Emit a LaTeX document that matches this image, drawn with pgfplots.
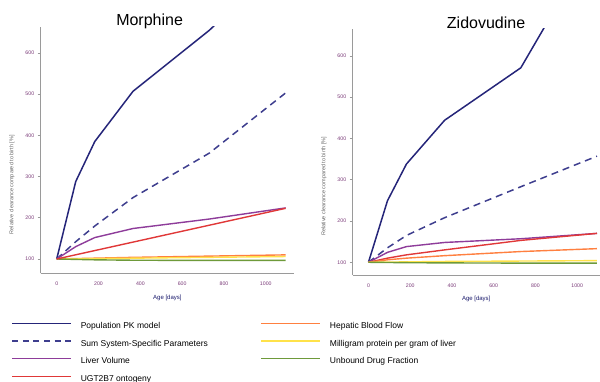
\documentclass[border=0pt]{standalone}
\usepackage{pgfplots}
\pgfplotsset{compat=1.18}
\usepackage{fontspec}
\setmainfont{Liberation Sans}
\definecolor{popc}{HTML}{252579}
\definecolor{sumc}{HTML}{3E3E8E}
\definecolor{livc}{HTML}{8E3C9A}
\definecolor{ugtc}{HTML}{E03838}
\definecolor{hepc}{HTML}{FF8040}
\definecolor{mgc}{HTML}{FFE24A}
\definecolor{unbc}{HTML}{6E9A3A}
\definecolor{tickc}{HTML}{7A3A78}
\definecolor{axc}{HTML}{9A9A9A}
\pgfplotsset{
  panel/.style={
    scale only axis,
    anchor=south west,
    axis x line=bottom, axis y line=left,
    axis line style={-, draw=axc, line width=0.8pt},
    xtick={0,200,...,1000}, ytick={100,200,...,600},
    x tick style={draw=none},
    y tick style={draw=axc, line width=0.6pt},
    tick align=outside, major tick length=3pt,
    tick label style={font=\fontsize{5.2}{6}\selectfont, text=tickc},
    x tick label style={yshift=-2.5pt},
    /pgf/number format/assume math mode=true,
    /pgf/number format/1000 sep={},
    xlabel={Age [days]},
    ylabel={Relative clearance compared to birth [\%]},
    xlabel style={font=\fontsize{6}{7}\selectfont, text=black!60!blue!80!gray, yshift=-2pt},
    ylabel style={font=\fontsize{5.5}{6.5}\selectfont, text=black!60, at={(ticklabel cs:0.36)}, yshift=4pt},
    clip=true,
    title style={font=\fontsize{16}{18}\selectfont},
  },
  pop/.style={popc, line width=1.5pt},
  sum/.style={sumc, line width=1.5pt, dash pattern=on 7pt off 5pt},
  liv/.style={livc, line width=1.4pt},
  ugt/.style={ugtc, line width=1.4pt},
  hep/.style={hepc, line width=1.4pt},
  mg/.style={mgc, line width=1.4pt},
  unb/.style={unbc, line width=1.4pt},
}
\begin{document}
\begin{tikzpicture}
\path[use as bounding box] (0pt,0pt) rectangle (600pt,382pt);
% Morphine
\begin{axis}[panel, at={(40.7pt,108.7pt)}, width=253.3pt, height=246.3pt,
  xmin=-76.6, xmax=1135, ymin=65.3, ymax=663,
  title={Morphine}, title style={at={(0.43,1)}, yshift=-11pt},
  legend columns=2,
  legend cell align=left,
  legend style={draw=none, fill=none, at={(axis description cs:-0.1145,-0.198)}, anchor=north west,
    inner sep=0pt, outer sep=0pt,
    font=\fontsize{8.5}{10}\selectfont,
    nodes={inner sep=0pt, text height=6.5pt, text depth=2pt},
    row sep=9.2pt,
    /tikz/every odd column/.append style={column sep=9pt},
    /tikz/every even column/.append style={column sep=53pt}},
  legend image code/.code={\draw[#1, line width=1.1pt] (0pt,3pt) -- (59pt,3pt);},
]
\addplot[pop] coordinates {(0,100)(91,288)(182,385)(365,507)(730,655)(1095,830)};
\addlegendentry{Population PK model}
\addplot[hep] coordinates {(0,100)(182,102)(365,104)(730,107)(1095,110)};
\addlegendentry{Hepatic Blood Flow}
\addplot[sum, legend image code/.code={\draw[sumc, line width=1.1pt, dash pattern=on 6pt off 4.6pt] (0pt,3pt) -- (59pt,3pt);}] coordinates {(0,100)(91,142)(182,180)(365,249)(730,357)(1095,503)};
\addlegendentry{Sum System-Specific Parameters}
\addplot[mg] coordinates {(0,100)(365,102)(730,104)(1095,106)};
\addlegendentry{Milligram protein per gram of liver}
\addplot[liv] coordinates {(0,100)(91,130)(182,152)(365,174)(730,197)(1095,224)};
\addlegendentry{Liver Volume}
\addplot[unb] coordinates {(0,100)(182,98)(365,97)(730,96.5)(1095,96.5)};
\addlegendentry{Unbound Drug Fraction}
\addplot[ugt] coordinates {(0,100)(365,141)(730,182)(1095,223)};
\addlegendentry{UGT2B7 ontogeny}
\end{axis}
% Zidovudine
\begin{axis}[panel, at={(352.7pt,107pt)}, width=247pt, height=246pt,
  xmin=-75.6, xmax=1108, ymin=69.2, ymax=665,
  title={Zidovudine}, title style={at={(0.54,1)}, yshift=-9pt},
]
\addplot[pop] coordinates {(0,100)(91,249)(182,338)(365,444)(730,571)(1095,888)};
\addplot[sum] coordinates {(0,100)(91,135)(182,165)(365,208)(730,283)(1095,357)};
\addplot[liv] coordinates {(0,100)(91,124)(182,138)(365,148)(730,157)(1095,170)};
\addplot[ugt] coordinates {(0,100)(91,110)(182,118)(365,130)(730,153)(1095,170)};
\addplot[hep] coordinates {(0,100)(91,106)(182,110)(365,116)(730,126)(1095,133)};
\addplot[mg] coordinates {(0,100)(365,102)(730,103)(1095,104)};
\addplot[unb] coordinates {(0,100)(182,99)(365,98.5)(730,98)(1095,98)};
\end{axis}
\end{tikzpicture}
\end{document}
